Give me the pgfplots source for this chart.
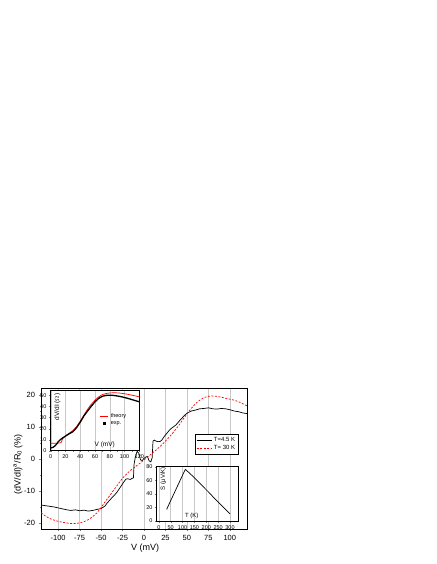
\documentclass[border=0pt]{standalone}
\usepackage{fontspec}
\setmainfont{Liberation Sans}
\usepackage{pgfplots}
\pgfplotsset{compat=1.18}
\definecolor{gridgray}{HTML}{C8C8C8}

\begin{document}
\begin{tikzpicture}
\useasboundingbox (0pt,0pt) rectangle (436pt,564pt);
% main panel
\begin{axis}[
  at={(41pt,35pt)}, anchor=south west, scale only axis,
  width=206pt, height=141pt,
  xmin=-120, xmax=120, ymin=-21.9, ymax=22.2,
  xtick={-100,-75,...,100}, ytick={-20,-10,...,20},
  minor x tick num=1, minor y tick num=1,
  tick align=outside, tick pos=left,
  major tick length=2.5pt, minor tick length=1.5pt,
  xmajorgrids, grid style={gridgray, line width=0.4pt},
  axis line style={line width=0.6pt},
  /pgf/number format/assume math mode=true,
  tick label style={font=\fontsize{7.5}{8}\selectfont},
  label style={font=\fontsize{9}{10}\selectfont},
  xlabel={V (mV)},
  ylabel={(dV/dI)\textsuperscript{a}/R\textsubscript{0} (\%)},
  xlabel style={at={(axis description cs:0.505,-0.135)}, anchor=center},
  ylabel style={at={(axis description cs:-0.112,0.46)}, anchor=center},
  legend style={at={(axis description cs:0.958,0.672)}, anchor=north east,
    font=\fontsize{6}{7}\selectfont, draw=black, line width=0.4pt,
    fill=white, inner sep=1pt, row sep=-1.5pt},
  legend cell align=left,
  legend image code/.code={\draw[#1] (0pt,0pt) -- (15pt,0pt);}
]
\addplot[black, line width=0.7pt] coordinates {
(-120,-14.4) (-115,-14.6) (-110,-14.8) (-105,-15.0) (-100,-15.3) (-95,-15.6)
(-90,-15.9) (-85,-16.1) (-80,-15.9) (-75,-16.2) (-70,-16.0) (-65,-16.3)
(-60,-16.1) (-55,-15.8) (-50,-15.5) (-47,-15.0) (-45,-14.6) (-43,-13.8)
(-40,-12.9) (-37,-12.0) (-34,-11.2) (-31,-10.2) (-28,-9.0) (-25,-7.8)
(-23,-7.0) (-21,-6.3) (-19,-6.2) (-16,-6.4) (-14,-6.1) (-12.3,-5.9)
(-11.5,-1.5) (-10,0.7) (-8,2.4) (-6,1.8) (-4,-0.3) (-2,-0.5) (0,0.2)
(2,0.6) (4,0.8) (6,-0.6) (8,-0.9) (9.5,0.4) (10.5,5.6) (12,5.9) (14,5.6)
(16,5.4) (19,5.5) (21,6.0) (23,6.8) (25,7.5) (28,8.5) (31,9.4) (34,10.0)
(37,10.6) (40,11.5) (42,12.2) (44,12.7) (47,13.6) (50,14.3) (55,15.0)
(60,15.3) (65,15.7) (70,15.8) (75,16.0) (80,15.7) (85,15.6) (90,15.8)
(95,15.7) (100,15.4) (105,15.0) (110,14.8) (115,14.4) (120,14.2)};
\addlegendentry{T=4.5 K}
\addplot[red, line width=0.7pt, dash pattern=on 2pt off 1.5pt] coordinates {
(-120,-16.8) (-115,-17.8) (-110,-18.6) (-105,-19.1) (-100,-19.5) (-95,-19.8)
(-90,-20.0) (-85,-20.2) (-80,-20.2) (-75,-20.0) (-70,-19.6) (-65,-19.0)
(-60,-18.1) (-55,-16.9) (-50,-15.2) (-45,-13.3) (-40,-11.5) (-35,-9.6)
(-30,-7.8) (-25,-6.0) (-20,-4.6) (-15,-3.4) (-10,-2.4) (-5,-1.4) (0,-0.3)
(5,0.8) (10,1.9) (15,3.0) (20,4.2) (25,5.6) (30,7.0) (35,8.6) (40,10.3)
(45,12.2) (50,14.1) (55,15.8) (60,17.3) (65,18.4) (70,19.2) (75,19.6)
(80,19.7) (85,19.6) (90,19.3) (95,19.0) (100,18.7) (105,18.4) (110,17.9)
(115,17.3) (120,16.6)};
\addlegendentry{T= 30 K}
\end{axis}
% inset: dV/dI vs V
\begin{axis}[
  at={(50.7pt,113.3pt)}, anchor=south west, scale only axis,
  width=88.6pt, height=60.7pt,
  xmin=0, xmax=120, ymin=0, ymax=55,
  axis background/.style={fill=white},
  xtick={0,20,...,120}, ytick={0,10,...,50},
  minor x tick num=1, minor y tick num=1,
  tick align=outside, tick pos=left,
  major tick length=1.8pt, minor tick length=1pt,
  xmajorgrids, grid style={gridgray, line width=0.4pt},
  axis line style={line width=0.5pt},
  /pgf/number format/assume math mode=true,
  tick label style={font=\fontsize{5.5}{6}\selectfont},
  xticklabel style={yshift=1pt}, yticklabel style={xshift=1pt},
  label style={font=\fontsize{6.5}{7}\selectfont},
  xlabel={V (mV)}, ylabel={dV/dI ($\Omega$)},
  xlabel style={at={(axis description cs:0.61,0.09)}, anchor=center},
  ylabel style={at={(axis description cs:0.075,0.72)}, anchor=center},
  legend style={at={(axis description cs:0.55,0.66)}, anchor=north west,
    font=\fontsize{5.5}{6}\selectfont, draw=none, fill=none,
    inner sep=0.5pt, row sep=-1.5pt},
  legend cell align=left
]
\addplot[red, line width=0.7pt,
  legend image code/.code={\draw[red, line width=0.7pt] (0pt,0pt) -- (8pt,0pt);}] coordinates {
(0,6.8) (5,6.8) (10,6.9) (14,7.2) (16,10.5) (18,12.2) (20,13.5) (25,15.8)
(30,18.3) (35,21.8) (40,26.8) (45,32.3) (50,37.6) (55,42.1) (60,45.8)
(65,48.8) (70,50.8) (75,51.8) (80,52.3) (85,52.5) (90,52.4) (95,52.1)
(100,51.6) (105,51.0) (110,50.3) (115,49.6) (120,48.8)};
\addlegendentry{theory}
\addplot[black, line width=1.3pt,
  legend image code/.code={\fill[black] (3pt,-0.9pt) rectangle (4.8pt,0.9pt);}] coordinates {
(0,2.5) (3,3.0) (6,4.5) (8,6.0) (10,8.0) (13,10.0) (16,11.5) (20,13.2)
(25,15.3) (30,17.2) (35,20.8) (40,25.8) (45,31.5) (50,36.0) (55,40.3)
(60,44.3) (65,47.4) (70,49.3) (75,50.1) (80,50.3) (85,50.1) (90,49.6)
(95,49.0) (100,48.2) (105,47.3) (110,46.3) (115,45.3) (120,44.3)};
\addlegendentry{exp.}
\end{axis}
% inset: S vs T
\begin{axis}[
  at={(156.7pt,43pt)}, anchor=south west, scale only axis,
  width=81.6pt, height=54.3pt,
  xmin=-9, xmax=335, ymin=0, ymax=80,
  axis background/.style={fill=white},
  xtick={0,50,...,300}, ytick={0,20,...,80},
  minor x tick num=1, minor y tick num=1,
  tick align=outside, tick pos=left,
  major tick length=1.8pt, minor tick length=1pt,
  xmajorgrids, grid style={gridgray, line width=0.4pt},
  axis line style={line width=0.5pt},
  /pgf/number format/assume math mode=true,
  tick label style={font=\fontsize{5.5}{6}\selectfont},
  xticklabel style={yshift=1pt}, yticklabel style={xshift=1pt},
  label style={font=\fontsize{6}{7}\selectfont},
  xlabel={T (K)}, ylabel={S (μV/K)},
  xlabel style={at={(axis description cs:0.43,0.09)}, anchor=center},
  ylabel style={at={(axis description cs:0.08,0.78)}, anchor=center}
]
\addplot[black, line width=0.7pt] coordinates {
(33,17) (40,22.5) (50,30) (60,37.5) (70,45) (80,52.5) (90,60) (100,67.5)
(108,73.5) (112,76) (120,73.5) (130,70.3) (140,67) (150,63.5) (160,60)
(170,56.5) (180,53) (190,49.5) (200,46) (210,42.5) (220,38.8) (230,35)
(240,31.5) (250,28) (260,24.5) (270,21) (280,17.5) (290,14) (300,10.5)};
\end{axis}
\end{tikzpicture}
\end{document}
